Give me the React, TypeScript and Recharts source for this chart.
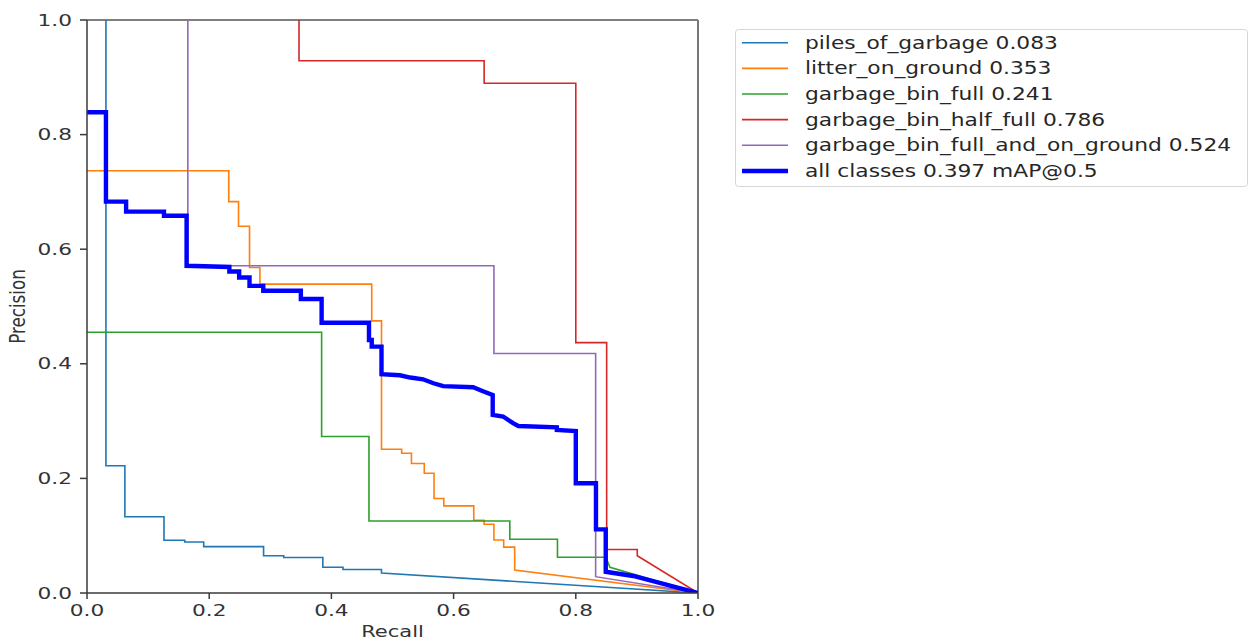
import { Legend, Line, LineChart, ReferenceLine, XAxis, YAxis } from "recharts";

// [recall, precision] vertices
const pilesOfGarbage: [number, number][] = [
  [0.031, 1.0], [0.031, 0.222], [0.062, 0.222], [0.062, 0.133], [0.126, 0.133], [0.126, 0.092],
  [0.16, 0.092], [0.16, 0.089], [0.191, 0.089], [0.191, 0.081], [0.289, 0.081], [0.289, 0.065],
  [0.322, 0.065], [0.322, 0.062], [0.386, 0.062], [0.386, 0.045], [0.419, 0.045], [0.419, 0.041],
  [0.482, 0.041], [0.482, 0.035], [1.0, 0.0],
];
const litterOnGround: [number, number][] = [
  [0, 0.737], [0.232, 0.737], [0.232, 0.683], [0.248, 0.683], [0.248, 0.64], [0.266, 0.64],
  [0.266, 0.568], [0.283, 0.568], [0.283, 0.539], [0.466, 0.539], [0.466, 0.475], [0.482, 0.475],
  [0.482, 0.251], [0.515, 0.251], [0.515, 0.244], [0.531, 0.244], [0.531, 0.226], [0.552, 0.226],
  [0.552, 0.209], [0.568, 0.209], [0.568, 0.165], [0.584, 0.165], [0.584, 0.152], [0.633, 0.152],
  [0.633, 0.127], [0.65, 0.127], [0.65, 0.12], [0.666, 0.12], [0.666, 0.0925], [0.682, 0.0925],
  [0.682, 0.08], [0.7, 0.08], [0.7, 0.04], [1.0, 0],
];
const garbageBinFull: [number, number][] = [
  [0, 0.455], [0.384, 0.455], [0.384, 0.273], [0.4615, 0.273], [0.4615, 0.1257], [0.692, 0.1257],
  [0.692, 0.0937], [0.77, 0.0937], [0.77, 0.0624], [0.849, 0.0624], [0.856, 0.045], [1.0, 0],
];
const garbageBinHalfFull: [number, number][] = [
  [0.347, 1.0], [0.347, 0.929], [0.65, 0.929], [0.65, 0.8895], [0.8, 0.8895], [0.8, 0.437],
  [0.8505, 0.437], [0.8505, 0.076], [0.9006, 0.076], [0.9006, 0.065], [1.0, 0],
];
const garbageBinFullAndOnGround: [number, number][] = [
  [0.165, 1.0], [0.165, 0.571], [0.666, 0.571], [0.666, 0.418], [0.8325, 0.418], [0.8325, 0.0285], [1.0, 0],
];
const allClasses: [number, number][] = [
  [0, 0.839], [0.031, 0.839], [0.031, 0.683], [0.064, 0.683], [0.064, 0.6655], [0.126, 0.6655],
  [0.126, 0.6585], [0.163, 0.6585], [0.163, 0.571], [0.233, 0.569], [0.233, 0.561], [0.249, 0.561],
  [0.249, 0.5505], [0.266, 0.5505], [0.266, 0.536], [0.2885, 0.536], [0.2885, 0.5276], [0.35, 0.5276],
  [0.35, 0.513], [0.384, 0.513], [0.384, 0.4717], [0.4615, 0.4717], [0.4615, 0.4415], [0.466, 0.4415],
  [0.466, 0.43], [0.482, 0.43], [0.482, 0.382], [0.512, 0.38], [0.529, 0.376], [0.55, 0.373],
  [0.567, 0.366], [0.583, 0.361], [0.632, 0.359], [0.646, 0.353], [0.664, 0.3455], [0.664, 0.311],
  [0.681, 0.308], [0.698, 0.296], [0.706, 0.2914], [0.769, 0.289], [0.769, 0.2845], [0.8, 0.2825],
  [0.8, 0.1915], [0.833, 0.1915], [0.833, 0.111], [0.849, 0.111], [0.849, 0.037], [0.894, 0.0297],
  [1.0, 0],
];

const seriesNames = [
  "piles_of_garbage 0.083",
  "litter_on_ground 0.353",
  "garbage_bin_full 0.241",
  "garbage_bin_half_full 0.786",
  "garbage_bin_full_and_on_ground 0.524",
  "all classes 0.397 mAP@0.5",
];
const seriesPoints = [
  pilesOfGarbage,
  litterOnGround,
  garbageBinFull,
  garbageBinHalfFull,
  garbageBinFullAndOnGround,
  allClasses,
];
const seriesColors = ["#1f77b4", "#ff7f0e", "#2ca02c", "#d62728", "#9467bd", "#0000ff"];
const seriesWidths = [1.6, 1.6, 1.6, 1.6, 1.6, 4.4];

const axisTicks = [0, 0.2, 0.4, 0.6, 0.8, 1.0];

const FONT = "DejaVu Sans, sans-serif";
const TEXT = "#333";

function XTick({ x, y, payload }: any) {
  return (
    <g transform={`translate(${x},${y})`}>
      <text transform="scale(1.4,1)" textAnchor="middle" dy={15} fontSize={15.5} fill={TEXT} fontFamily={FONT}>
        {Number(payload.value).toFixed(1)}
      </text>
    </g>
  );
}

function YTick({ x, y, payload }: any) {
  return (
    <g transform={`translate(${x},${y})`}>
      <text transform="scale(1.4,1)" textAnchor="end" dy={5.6} fontSize={15.5} fill={TEXT} fontFamily={FONT}>
        {Number(payload.value).toFixed(1)}
      </text>
    </g>
  );
}

function LegendBox() {
  const rowY = (i: number) => 13.7 + i * 25.65;
  return (
    <svg width={514} height={159} style={{ display: "block" }}>
      <rect x={0.5} y={0.5} width={512} height={157} rx={3} fill="#fff" stroke="#d6d6d6" />
      {seriesNames.map((name, i) => (
        <g key={name}>
          <line x1={7} x2={53} y1={rowY(i)} y2={rowY(i)} stroke={seriesColors[i]} strokeWidth={seriesWidths[i]} />
          <text
            transform={`translate(70,${rowY(i)}) scale(1.28,1)`}
            dy={6}
            fontSize={17}
            fill="#262626"
            fontFamily={FONT}
          >
            {name}
          </text>
        </g>
      ))}
    </svg>
  );
}

export default function App() {
  return (
    <div style={{ position: "absolute", left: 0, top: 0, width: 1250, height: 641, background: "#fff" }}>
      <LineChart width={1250} height={641} margin={{ top: 20, right: 552, bottom: 0, left: 0 }}>
        <XAxis
          dataKey="r"
          type="number"
          domain={[0, 1]}
          ticks={axisTicks}
          height={48}
          tickSize={6}
          tickMargin={2}
          stroke="#3a3a3a"
          strokeWidth={1.5}
          tick={<XTick />}
          allowDataOverflow
          label={{
            content: ({ viewBox }: any) => (
              <text
                transform={`translate(${viewBox.x + viewBox.width / 2},637) scale(1.26,1)`}
                textAnchor="middle"
                fontSize={16.7}
                fill={TEXT}
                fontFamily={FONT}
              >
                Recall
              </text>
            ),
          }}
        />
        <YAxis
          dataKey="p"
          type="number"
          domain={[0, 1]}
          ticks={axisTicks}
          width={87}
          tickSize={7}
          tickMargin={8}
          stroke="#3a3a3a"
          strokeWidth={1.5}
          tick={<YTick />}
          allowDataOverflow
          label={{
            content: ({ viewBox }: any) => (
              <text
                transform={`translate(25,${viewBox.y + viewBox.height / 2}) scale(1.23,1) rotate(-90)`}
                textAnchor="middle"
                fontSize={16.7}
                fill={TEXT}
                fontFamily={FONT}
              >
                Precision
              </text>
            ),
          }}
        />
        <ReferenceLine y={1} stroke="#555" strokeWidth={1.5} ifOverflow="visible" />
        <ReferenceLine x={1} stroke="#777" strokeWidth={2} ifOverflow="visible" />
        {seriesPoints.map((pts, i) => (
          <Line
            key={seriesNames[i]}
            name={seriesNames[i]}
            data={pts.map(([r, p]) => ({ r, p }))}
            dataKey="p"
            type="linear"
            stroke={seriesColors[i]}
            strokeWidth={seriesWidths[i]}
            dot={false}
            activeDot={false}
            isAnimationActive={false}
          />
        ))}
        <Legend
          layout="horizontal"
          verticalAlign="middle"
          align="center"
          wrapperStyle={{ left: 735, top: 29, width: 514, height: 159 }}
          content={() => <LegendBox />}
        />
      </LineChart>
    </div>
  );
}
